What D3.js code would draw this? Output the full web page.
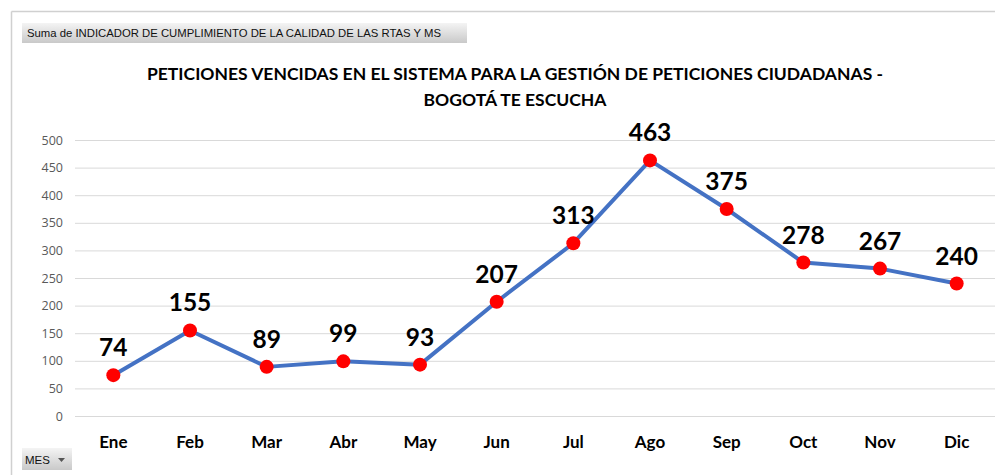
<!DOCTYPE html>
<html>
<head>
<meta charset="utf-8">
<script src="https://cdn.jsdelivr.net/npm/d3@7"></script>
<style>
  body { margin: 0; background: #fff; }
  svg text { font-family: Lato, "Open Sans", sans-serif; }
</style>
</head>
<body>
<div id="chart"></div>
<script>
const months = ["Ene", "Feb", "Mar", "Abr", "May", "Jun", "Jul", "Ago", "Sep", "Oct", "Nov", "Dic"];
const values = [74, 155, 89, 99, 93, 207, 313, 463, 375, 278, 267, 240];
const yTicks = [0, 50, 100, 150, 200, 250, 300, 350, 400, 450, 500];
const titleLines = ["PETICIONES VENCIDAS EN EL SISTEMA PARA LA GESTIÓN DE PETICIONES CIUDADANAS -", "BOGOTÁ TE ESCUCHA"];

const width = 995, height = 475;

const svg = d3.select("#chart").append("svg")
    .attr("width", width)
    .attr("height", height);

// gradient for the pivot buttons
const grad = svg.append("defs").append("linearGradient")
    .attr("id", "btn").attr("x1", 0).attr("y1", 0).attr("x2", 0).attr("y2", 1);
grad.append("stop").attr("offset", "0%").attr("stop-color", "#f4f4f4");
grad.append("stop").attr("offset", "100%").attr("stop-color", "#c9c9c9");

// outer frame (top and left edges visible)
svg.append("line").attr("x1", 11.5).attr("x2", width).attr("y1", 11.5).attr("y2", 11.5)
    .attr("stroke", "#d0d0d0").attr("stroke-width", 1.5);
svg.append("line").attr("x1", 11.5).attr("x2", 11.5).attr("y1", 11.5).attr("y2", height)
    .attr("stroke", "#d0d0d0").attr("stroke-width", 1.5);

// field button top
svg.append("rect").attr("x", 22).attr("y", 23).attr("width", 445).attr("height", 20)
    .attr("fill", "url(#btn)");
svg.append("text").attr("x", 27).attr("y", 37)
    .attr("font-size", 11.5).attr("fill", "#111")
    .style("font-family", "'Liberation Sans Narrow', 'Liberation Sans', sans-serif")
    .attr("textLength", 414).attr("lengthAdjust", "spacingAndGlyphs")
    .text("Suma de INDICADOR DE CUMPLIMIENTO DE LA CALIDAD DE LAS RTAS Y MS");

// title
svg.append("g").selectAll("text").data(titleLines).join("text")
    .attr("x", 515)
    .attr("y", (d, i) => 80 + i * 26)
    .attr("text-anchor", "middle")
    .attr("font-size", 17.5)
    .attr("font-weight", "bold")
    .attr("fill", "#000")
    .text(d => d);

const x = d3.scaleBand().domain(months).range([75, 995]);
const y = d3.scaleLinear().domain([0, 500]).range([416, 140]);

// gridlines
svg.append("g").selectAll("line").data(yTicks).join("line")
    .attr("x1", 75).attr("x2", 995)
    .attr("y1", d => y(d) + 0.5).attr("y2", d => y(d) + 0.5)
    .attr("stroke", "#d9d9d9").attr("stroke-width", 1);

// y axis labels
const yAxis = svg.append("g")
    .attr("transform", "translate(63,0)")
    .call(d3.axisLeft(y).tickValues(yTicks).tickSize(0).tickPadding(0));
yAxis.select(".domain").remove();
yAxis.selectAll("text")
    .attr("font-size", 12.5).attr("fill", "#595959")
    .style("font-family", "'Open Sans', sans-serif");

// x axis labels
const xAxis = svg.append("g")
    .attr("transform", "translate(0,436)")
    .call(d3.axisBottom(x).tickSize(0).tickPadding(0));
xAxis.select(".domain").remove();
xAxis.selectAll("text")
    .attr("font-size", 17).attr("font-weight", "bold").attr("fill", "#000");

const cx = d => x(d) + x.bandwidth() / 2;

// line
const line = d3.line()
    .x((d, i) => cx(months[i]))
    .y(d => y(d));
svg.append("path").datum(values)
    .attr("d", line)
    .attr("fill", "none")
    .attr("stroke", "#4472c4")
    .attr("stroke-width", 4)
    .attr("stroke-linejoin", "round");

// markers
svg.append("g").selectAll("circle").data(values).join("circle")
    .attr("cx", (d, i) => cx(months[i]))
    .attr("cy", d => y(d))
    .attr("r", 7)
    .attr("fill", "#ff0000");

// data labels
svg.append("g").selectAll("text").data(values).join("text")
    .attr("x", (d, i) => cx(months[i]))
    .attr("y", d => y(d) - 19)
    .attr("text-anchor", "middle")
    .attr("font-size", 24.5)
    .attr("font-weight", "bold")
    .attr("fill", "#000")
    .text(d => d);

// MES button
svg.append("rect").attr("x", 22).attr("y", 448).attr("width", 50).attr("height", 22)
    .attr("fill", "url(#btn)");
svg.append("text").attr("x", 25).attr("y", 464)
    .attr("font-size", 11.5).attr("fill", "#111")
    .style("font-family", "'Liberation Sans Narrow', 'Liberation Sans', sans-serif")
    .text("MES");
svg.append("path").attr("d", "M58,458 L65,458 L61.5,462 Z").attr("fill", "#555");
</script>
</body>
</html>
